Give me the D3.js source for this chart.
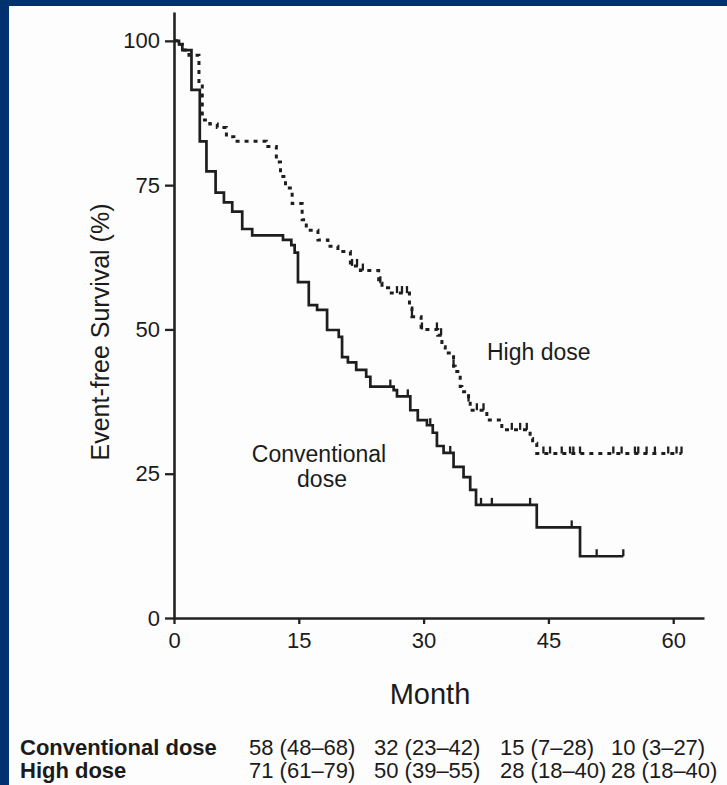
<!DOCTYPE html>
<html lang="en">
	<head>
		<meta charset="UTF-8">
		<title>Event-free survival, conventional vs high dose</title>
		<script src="https://d3js.org/d3.v7.min.js"></script>
		<style>
			body { margin: 0; background: #00306e; }
			svg text { font-family: "Liberation Sans", Arial, sans-serif; fill: #1b1b1b; }
		</style>
	</head>
	<body>
		<div id="chart"></div>

		<script type="text/javascript">
			// Step points: [month, survival % from that month on]
			const conventional = [
				[0, 100], [0.6, 99.4], [1.0, 98.4], [2.1, 91.5], [3.1, 82.6], [3.9, 77.4],
				[5.0, 73.7], [6.0, 72.0], [7.0, 70.4], [8.2, 67.4], [9.4, 66.3], [13.1, 65.5],
				[14.1, 64.6], [14.5, 63.3], [14.9, 58.2], [16.2, 54.2], [17.2, 53.4], [18.4, 49.9],
				[19.8, 48.7], [20.2, 45.2], [20.9, 44.3], [21.9, 43.0], [23.1, 41.8], [23.6, 40.1],
				[26.4, 39.5], [26.8, 38.4], [28.4, 36.0], [29.3, 34.3], [30.4, 33.4], [31.1, 32.1],
				[31.6, 29.8], [32.4, 28.6], [33.6, 26.2], [34.8, 24.4], [35.6, 22.2], [36.3, 19.6],
				[43.6, 15.7], [48.8, 10.7], [54.0, 10.7]
			];
			const highDose = [
				[0, 100], [0.6, 99.4], [1.0, 98.4], [1.8, 97.5], [3.0, 92.7], [3.4, 86.3],
				[4.3, 85.6], [5.2, 85.0], [6.3, 83.4], [7.2, 82.6], [11.1, 81.7], [12.3, 79.0],
				[12.8, 76.5], [13.4, 74.5], [14.2, 71.8], [15.4, 69.0], [15.9, 67.2], [17.3, 65.5],
				[18.5, 64.4], [19.7, 63.5], [21.2, 61.0], [22.4, 60.2], [24.6, 58.0], [25.0, 57.2],
				[25.8, 56.3], [28.3, 53.7], [28.6, 52.2], [29.7, 50.0], [31.7, 49.0], [32.2, 47.0],
				[32.6, 45.9], [33.6, 43.6], [33.8, 42.7], [34.4, 40.1], [34.6, 39.2], [35.4, 37.5],
				[35.6, 36.0], [37.6, 34.3], [39.4, 32.6], [42.8, 31.1], [43.1, 30.3], [43.6, 28.5],
				[61.0, 28.5]
			];
			// censored observations (month)
			const conventionalCensored = [26.0, 28.1, 30.8, 33.2, 36.9, 38.2, 42.8, 47.8, 50.8, 54.0];
			const highDoseCensored = [
				21.4, 22.0, 22.7, 24.8, 26.8, 27.4, 28.0, 28.6, 29.8, 31.6, 32.1, 33.6, 35.4,
				36.4, 37.2, 40.6, 41.6, 42.4, 44.4, 45.2, 46.6, 47.6, 48.0, 48.8, 52.8, 53.8,
				55.4, 55.8, 56.8, 57.8, 59.4, 60.4, 61.0
			];

			const monthTicks = [0, 15, 30, 45, 60];
			const survivalTicks = [0, 25, 50, 75, 100];
			const monthMax = 63.7;
			const survivalMax = 105;

			const tableRows = ['Conventional dose', 'High dose'];
			const tableValues = [
				['58 (48\u201368)', '32 (23\u201342)', '15 (7\u201328)', '10 (3\u201327)'],
				['71 (61\u201379)', '50 (39\u201355)', '28 (18\u201340)', '28 (18\u201340)']
			];

			const W = 727, H = 785;
			const svg = d3.select('#chart').append('svg')
				.attr('width', W)
				.attr('height', H)
				.style('display', 'block');

			// navy frame with white sheet
			svg.append('rect').attr('width', W).attr('height', H).attr('fill', '#00306e');
			svg.append('rect').attr('x', 9).attr('y', 6).attr('width', W - 9).attr('height', H - 6).attr('fill', '#fdfdfd');

			const x = d3.scaleLinear().domain([0, monthMax]).range([174, 704]);
			const y = d3.scaleLinear().domain([0, survivalMax]).range([618, 12]);

			// axes
			const xAxis = svg.append('g')
				.attr('transform', `translate(0,${y(0)})`)
				.call(d3.axisBottom(x).tickValues(monthTicks).tickSize(6).tickSizeOuter(0).tickPadding(8));
			xAxis.selectAll('text').attr('font-size', 22);

			const yAxis = svg.append('g')
				.attr('transform', `translate(${x(0)},0)`)
				.call(d3.axisLeft(y).tickValues(survivalTicks).tickSize(9).tickSizeOuter(0).tickPadding(5));
			yAxis.selectAll('text').attr('font-size', 22);

			svg.selectAll('.domain').attr('stroke', '#222').attr('stroke-width', 2.6);
			svg.selectAll('.tick line').attr('stroke', '#222').attr('stroke-width', 2.3);
			svg.selectAll('.tick text').attr('fill', '#161616').attr('font-family', '"Liberation Sans", Arial, sans-serif');

			// axis titles
			svg.append('text')
				.attr('x', 430).attr('y', 704)
				.attr('text-anchor', 'middle')
				.attr('font-size', 29)
				.text('Month');

			svg.append('text')
				.attr('transform', 'translate(109,332) rotate(-90)')
				.attr('text-anchor', 'middle')
				.attr('font-size', 25)
				.text('Event-free Survival (%)');

			// survival curves
			const stepLine = d3.line()
				.x(d => x(d[0]))
				.y(d => y(d[1]))
				.curve(d3.curveStepAfter);

			svg.append('path')
				.datum(conventional)
				.attr('d', stepLine)
				.attr('fill', 'none')
				.attr('stroke', '#1e1e1e')
				.attr('stroke-width', 2.7);

			svg.append('path')
				.datum(highDose)
				.attr('d', stepLine)
				.attr('fill', 'none')
				.attr('stroke', '#1e1e1e')
				.attr('stroke-width', 3)
				.attr('stroke-dasharray', '4,5');

			// censor marks
			function survivalAt(series, t) {
				const i = d3.bisector(d => d[0]).right(series, t) - 1;
				return series[Math.max(0, i)][1];
			}

			function drawCensors(series, times) {
				svg.append('g').selectAll('line')
					.data(times)
					.join('line')
					.attr('x1', t => x(t))
					.attr('x2', t => x(t))
					.attr('y1', t => y(survivalAt(series, t)))
					.attr('y2', t => y(survivalAt(series, t)) - 7)
					.attr('stroke', '#1e1e1e')
					.attr('stroke-width', 2.3);
			}
			drawCensors(conventional, conventionalCensored);
			drawCensors(highDose, highDoseCensored);

			// curve labels
			svg.append('text').attr('x', 487).attr('y', 360).attr('font-size', 23).text('High dose');
			svg.append('text').attr('x', 319).attr('y', 462).attr('text-anchor', 'middle').attr('font-size', 23).text('Conventional');
			svg.append('text').attr('x', 322).attr('y', 487).attr('text-anchor', 'middle').attr('font-size', 23).text('dose');

			// table of survival at 15/30/45/60 months
			const colX = [249, 374, 500, 611];
			const rowY = [755, 778];
			tableRows.forEach((name, r) => {
				svg.append('text').attr('x', 20).attr('y', rowY[r]).attr('font-size', 22)
					.attr('font-weight', 'bold').attr('fill', '#2a2a2a').text(name);
				tableValues[r].forEach((v, c) => {
					svg.append('text').attr('x', colX[c]).attr('y', rowY[r]).attr('font-size', 22)
						.attr('fill', '#2a2a2a').text(v);
				});
			});
		</script>
	</body>
</html>
